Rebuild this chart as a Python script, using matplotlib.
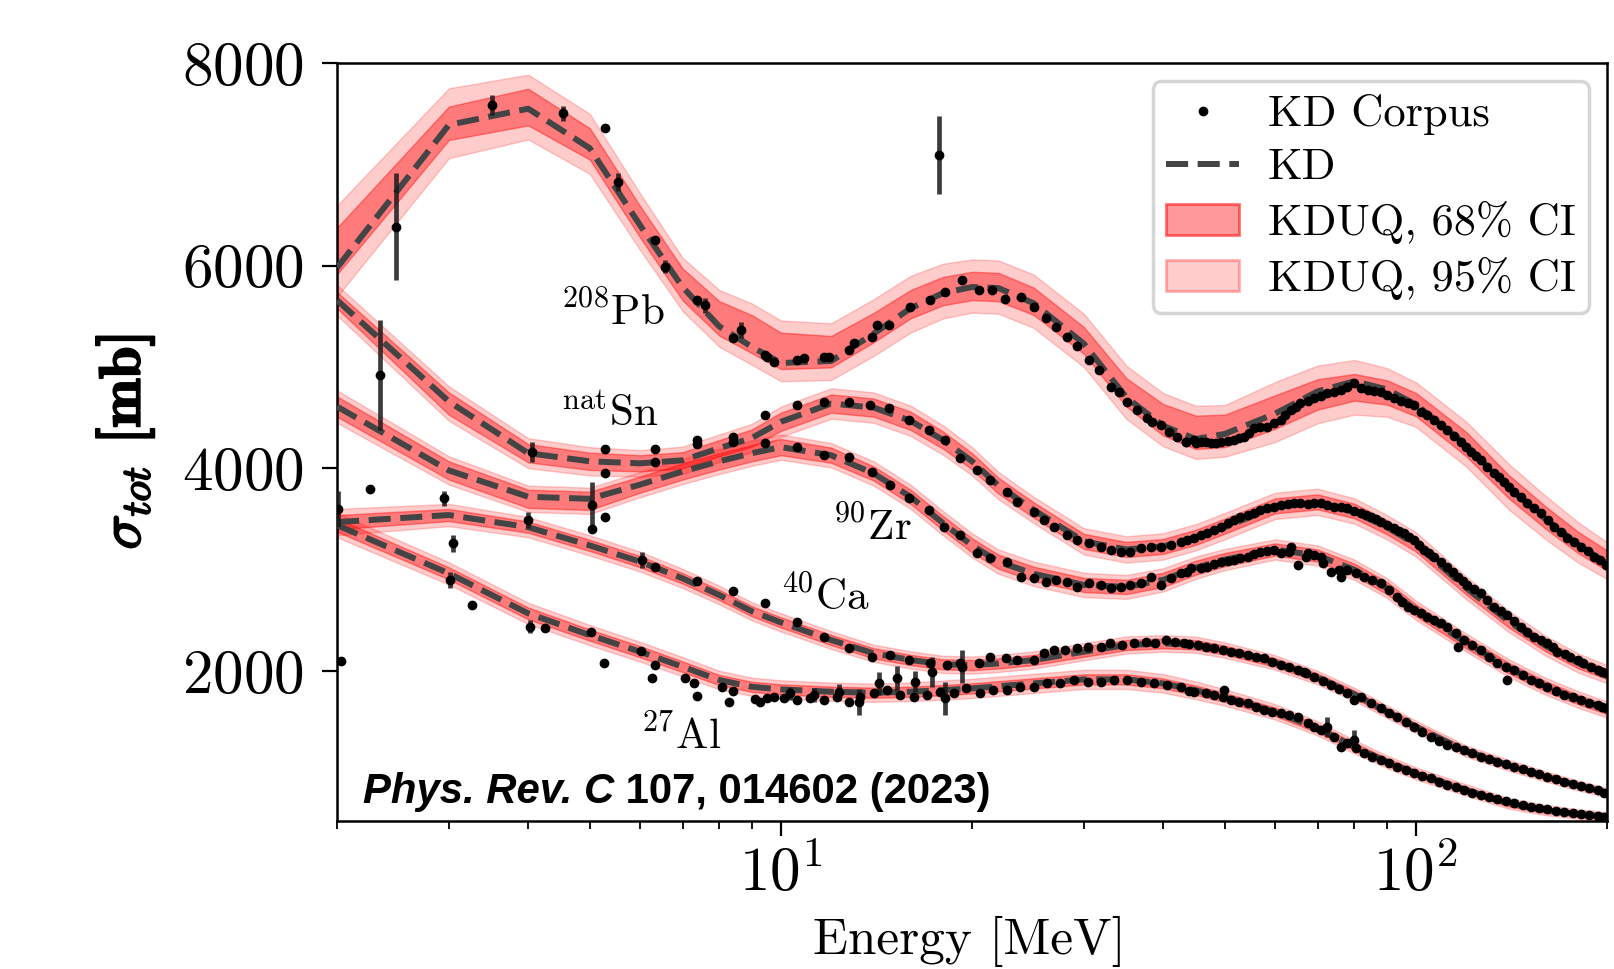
import numpy as np
import matplotlib
matplotlib.use("Agg")
import matplotlib.pyplot as plt
import matplotlib.patheffects as pe
from matplotlib.lines import Line2D
from matplotlib.patches import Patch

# energy grid of the model curves (MeV)
E_knots = [2, 3, 4, 5, 6, 7, 8, 9, 10, 12, 14, 16, 18, 20, 22, 25, 30, 35, 40, 45,
           50, 60, 70, 80, 90, 100, 120, 140, 160, 180, 200]

# KD curves, KDUQ centre shift and band half widths (mb)
pb_kd = [5980, 7390, 7550, 7160, 6400, 5790, 5400, 5200, 5040, 5060, 5330, 5580, 5730, 5790, 5780, 5630,
         5230, 4700, 4420, 4290, 4340, 4540, 4760, 4860, 4780, 4630, 4230, 3810, 3500, 3250, 3060]
pb_shift = [165, 16, 16, 43, 35, 26, 80, 125, 120, 92, 60, 40, 20, 10, 10, 20,
            33, 50, 60, 66, 30, 16, -30, -60, -30, 0, 10, 10, 15, 20, 30]
pb_w68 = [230, 165, 181, 155, 155, 158, 170, 188, 180, 155, 145, 140, 140, 140, 140, 135,
          132, 140, 155, 165, 160, 165, 150, 132, 120, 115, 120, 115, 110, 105, 100]
pb_w95 = [450, 345, 320, 296, 280, 263, 280, 303, 300, 280, 280, 280, 270, 263, 263, 263,
          263, 263, 263, 263, 255, 296, 285, 270, 240, 220, 222, 225, 214, 200, 181]

sn_kd = [5660, 4660, 4150, 4070, 4050, 4080, 4200, 4300, 4460, 4640, 4600, 4470, 4280, 4070, 3830, 3590,
         3280, 3200, 3230, 3320, 3420, 3620, 3660, 3570, 3420, 3250, 2820, 2490, 2250, 2080, 1970]
sn_shift = [0, -20, 0, 0, 0, 0, 0, 0, 0, 0, 0, 0, 0, 0, 0, 0,
            0, 0, 0, 0, 10, 10, 10, 10, 0, 0, 0, 0, 0, 0, 0]
sn_w68 = [80, 110, 90, 85, 80, 80, 80, 85, 90, 90, 90, 90, 85, 80, 78, 75,
          74, 74, 74, 74, 74, 74, 74, 72, 70, 70, 65, 60, 55, 52, 50]
sn_w95 = [150, 170, 148, 140, 130, 135, 135, 140, 150, 150, 150, 150, 145, 140, 135, 130,
          130, 130, 130, 130, 130, 130, 130, 125, 120, 120, 112, 105, 98, 94, 90]

zr_kd = [4610, 3980, 3720, 3700, 3840, 3970, 4070, 4150, 4210, 4130, 3950, 3720, 3460, 3240, 3080, 2960,
         2850, 2830, 2900, 3020, 3100, 3200, 3140, 3000, 2820, 2600, 2280, 2030, 1850, 1720, 1620]
zr_shift = [0, 0, -20, -20, 0, 0, 0, 0, 0, 0, 0, 0, 0, 0, 0, 0,
            0, 0, 0, 0, 0, 0, 0, 0, 0, 0, 0, 0, 0, 0, 0]
zr_w68 = [100, 90, 90, 90, 80, 80, 80, 80, 80, 75, 70, 70, 70, 70, 70, 70,
          70, 70, 70, 68, 65, 60, 60, 60, 60, 58, 55, 52, 50, 47, 45]
zr_w95 = [160, 140, 130, 130, 125, 125, 125, 125, 125, 120, 120, 120, 120, 120, 120, 120,
          120, 118, 115, 110, 105, 100, 100, 100, 98, 95, 90, 87, 84, 82, 80]

ca_kd = [3470, 3540, 3420, 3240, 3080, 2915, 2750, 2590, 2480, 2306, 2175, 2110, 2066, 2059, 2075, 2109,
         2191, 2257, 2273, 2260, 2207, 2085, 1935, 1770, 1600, 1450, 1210, 1070, 960, 870, 800]
ca_shift = [0] * len(E_knots)
ca_w68 = [70, 60, 55, 55, 55, 52, 50, 50, 50, 50, 50, 50, 50, 50, 50, 50,
          50, 50, 48, 46, 44, 42, 40, 38, 36, 34, 32, 30, 28, 27, 26]
ca_w95 = [130, 110, 100, 100, 98, 95, 92, 90, 90, 88, 85, 85, 85, 85, 85, 85,
          85, 85, 82, 80, 76, 72, 68, 65, 62, 60, 56, 53, 50, 48, 46]

al_kd = [3440, 2964, 2569, 2355, 2191, 2043, 1911, 1845, 1819, 1796, 1786, 1796, 1812, 1829, 1850, 1878,
         1918, 1918, 1878, 1810, 1740, 1598, 1435, 1253, 1105, 990, 826, 694, 628, 589, 562]
al_shift = [0] * len(E_knots)
al_w68 = [65, 60, 58, 55, 55, 52, 50, 50, 50, 50, 50, 50, 50, 50, 50, 50,
          50, 50, 48, 46, 44, 42, 40, 38, 36, 34, 32, 30, 28, 27, 26]
al_w95 = [120, 110, 105, 100, 98, 95, 92, 90, 90, 90, 90, 92, 95, 95, 95, 95,
          95, 95, 92, 88, 82, 76, 70, 66, 62, 60, 56, 53, 50, 48, 46]

# KD corpus: points with visible error bars
pb_bar_E = [2.48, 3.51, 4.53, 5.53, 6.57, 7.6, 8.65, 17.73]
pb_bar_sig = [6385, 7586, 7504, 6829, 5990, 5612, 5365, 7092]
pb_bar_err = [526, 99, 75, 90, 66, 74, 82, 387]
sn_bar_E = [2.34, 4.05]
sn_bar_sig = [4921, 4164]
sn_bar_err = [543, 99]
zr_bar_E = [5.05]
zr_bar_sig = [3640]
zr_bar_err = [230]
ca_bar_E = [2.01, 2.95, 3.05, 4.0, 6.04]
ca_bar_sig = [3600, 3704, 3260, 3490, 3095]
ca_bar_err = [180, 74, 82, 82, 82]
al_bar_E = [3.01, 4.02, 10.35, 11.26, 12.33, 13.26, 14.26, 15.24, 16.28, 17.3, 18.16, 19.29, 72.5, 79.9]
al_bar_sig = [2898, 2437, 1780, 1763, 1796, 1697, 1878, 1928, 1894, 1993, 1730, 2043, 1451, 1319]
al_bar_err = [82, 66, 66, 66, 80, 130, 115, 125, 105, 150, 165, 165, 99, 99]

# KD corpus: remaining points
pb_pts_E = [5.29, 6.34, 7.38, 8.42, 9.51, 9.45, 9.74, 10.6, 10.86, 11.68, 11.89, 12.79, 13.02, 13.92, 14.17,
            14.78, 15.99, 17.2, 18.16, 19.29, 20.49, 21.51, 22.57, 23.84, 25.01, 26.11, 27.07, 28.24, 29.28,
            30.54, 31.67, 33.04, 34.06, 35.11, 36.4, 37.75, 38.44, 39.62, 40.83, 42.09, 43.37, 44.7, 45.8,
            47.5, 49.25, 51.7, 53.6, 55.6, 58.3, 61.2, 63.5, 65.8, 69.1, 72.5, 76.1, 79.9, 83.9, 88, 92.4,
            97, 101.9, 106.8, 112, 117.6, 122, 126.5, 132.8, 137.7, 142.7, 149.7, 157.1, 164.8, 173, 181.8,
            190.9, 199.5]
pb_pts_sig = [7356, 6253, 5661, 5283, 5102, 5119, 5053, 5069, 5086, 5102, 5096, 5168, 5234, 5299, 5415,
              5415, 5595, 5661, 5743, 5859, 5760, 5760, 5668, 5694, 5595, 5481, 5398, 5299, 5207,
              5069, 4971, 4806, 4756, 4658, 4576, 4494, 4461, 4428, 4362, 4312, 4263, 4280, 4263,
              4247, 4263, 4280, 4312, 4395, 4411, 4477, 4576, 4642, 4691, 4740, 4773, 4839, 4773, 4757, 4691,
              4642, 4559, 4477, 4378, 4263, 4164, 4082, 3951, 3868, 3770, 3655, 3556, 3424, 3309, 3227,
              3128, 3046]
sn_pts_E = [5.29, 6.34, 7.38, 8.42, 9.45, 10.6, 11.68, 12.79, 13.83, 14.78, 15.9, 17.09, 18.16, 19.17, 20.37,
            21.38, 22.71, 23.55, 25.01, 25.94, 26.9, 28.24, 29.28, 30.54, 31.87, 33.04, 34.26, 35.52, 36.86,
            38.2, 39.62, 41.08, 42.6, 44.7, 46.9, 49.25, 51.7, 54.3, 56.9, 59.8, 61.2, 64.3, 67.5, 70.8,
            74.3, 78, 81.8, 84.9, 88, 92.4, 95.9, 99.3, 103, 106.8, 112, 116.3, 120.4, 126.5, 132.8, 139.3,
            146.2, 153.5, 161, 166.6, 174.9, 183.5, 193.2, 199.5]
sn_pts_sig = [4188, 4188, 4280, 4312, 4527, 4625, 4658, 4658, 4625, 4592, 4477, 4378, 4280, 4099, 3984,
              3885, 3770, 3671, 3572, 3490, 3424, 3342, 3293, 3266, 3227, 3194, 3178, 3178, 3211,
              3221, 3227, 3243, 3276, 3309, 3359, 3424, 3490, 3540, 3589, 3622, 3638, 3661, 3648, 3655,
              3622, 3606, 3556, 3523, 3474, 3408, 3359, 3293, 3194, 3128, 3029, 2931, 2849, 2767, 2635, 2553,
              2437, 2339, 2273, 2191, 2141, 2076, 2010, 1977]
zr_pts_E = [5.05, 5.29, 5.29, 6.34, 7.38, 8.42, 9.45, 10.6, 11.68, 12.79, 13.92, 14.87, 15.9, 17.09, 18.05,
            19.17, 20.37, 21.38, 22.71, 23.84, 25.01, 26.11, 27.07, 28.24, 29.28, 30.54, 31.87, 33.04, 34.26,
            35.52, 36.86, 38.2, 39.62, 41.08, 42.6, 44.2, 46.9, 49.25, 51.7, 54.3, 56.9, 59.8, 61.2, 63.5,
            65.1, 67.5, 69.1, 70.8, 73.4, 76.1, 78, 82.8, 88, 93.5, 97, 101.9, 106.8, 112, 116.3, 119,
            126.5, 134.4, 139.3, 142.7, 151.7, 161, 171.2, 181.8, 193.2, 199.5]
zr_pts_sig = [3400, 3950, 3517, 4066, 4240, 4263, 4247, 4214, 4132, 4115, 3967, 3836, 3704, 3589, 3424,
              3342, 3162, 3112, 3079, 2931, 2915, 2881, 2898, 2881, 2832, 2865, 2849, 2816, 2832,
              2849, 2865, 2931, 2849, 2915, 2964, 3013, 3029, 3079, 3095, 3128, 3178, 3194, 3162, 3227,
              3046, 3162, 3145, 3128, 2980, 2931, 2997, 2931, 2865, 2733, 2635, 2569, 2503, 2437, 2240, 2306,
              2207, 2076, 1911, 2010, 1911, 1845, 1763, 1714, 1665, 1632]
ca_pts_E = [2.25, 6.34, 7.38, 8.42, 9.45, 10.6, 11.68, 12.79, 13.92, 14.87, 15.9, 17.2, 18.27, 19.17, 20.5,
            21.38, 22.6, 23.55, 25, 25.94, 26.9, 28, 29.3, 30.4, 31.87, 33, 34.5, 36, 37.6, 38.8, 40.4,
            41.8, 43.2, 45.3, 48.1, 51.1, 54.3, 57.6, 61.2, 65.1, 66.6, 69.1, 73.4, 78, 79.9, 81.8, 88,
            93.5, 99.3, 105.5, 112, 119, 126.5, 134.4, 142.7, 151.7, 161, 171.2, 181.8, 193.2, 198]
ca_pts_sig = [3793, 3029, 2891, 2793, 2674, 2487, 2339, 2224, 2141, 2158, 2109, 2076, 2059, 2076, 2076,
              2141, 2125, 2109, 2109, 2175, 2207, 2207, 2224, 2240, 2240, 2273, 2257, 2273, 2289, 2273, 2306,
              2289, 2273, 2257, 2224, 2191, 2158, 2125, 2059, 2010, 1993, 1944, 1862, 1780, 1714, 1746, 1632,
              1549, 1451, 1352, 1270, 1220, 1154, 1105, 1056, 1006, 957, 907, 865, 826, 793]
al_pts_E = [2.03, 3.26, 4.25, 5.02, 5.27, 6.02, 6.34, 6.26, 7.07, 7.29, 7.38, 8.08, 8.27, 8.42, 9.11,
            9.28, 9.51, 9.74, 10.1, 10.6, 11.1, 11.68, 12.25, 12.79, 13.34, 14.0, 14.7, 15.4, 16.2, 17.0,
            17.8, 18.7, 19.6, 20.6, 21.6, 22.7, 23.8, 25.0, 26.2, 27.5, 28.9, 30.4, 31.9, 33.5, 35.1,
            36.9, 38.7, 40.6, 42.6, 44.7, 48.1, 49.8, 51.1, 54.3, 57.6, 61.2, 65.1, 67.5, 70.8, 74.3,
            76.1, 78, 82.8, 88, 93.5, 99.3, 105.5, 112, 119, 126.5, 134.4, 142.7, 151.7, 161, 171.2,
            181.8, 193.2, 198]
al_pts_sig = [2102, 2651, 2421, 2388, 2076, 2200, 2059, 1928, 1928, 1878, 1753, 1845, 1697, 1806, 1721,
              1697, 1730, 1746, 1730, 1714, 1730, 1714, 1746, 1697, 1746, 1780, 1812, 1763, 1746, 1763,
              1796, 1780, 1829, 1780, 1812, 1812, 1845, 1845, 1878, 1878, 1911, 1894, 1894, 1911, 1911,
              1894, 1878, 1862, 1845, 1796, 1763, 1812, 1714, 1681, 1615, 1583, 1549, 1484, 1418, 1352,
              1253, 1286, 1188, 1122, 1056, 990, 941, 875, 826, 776, 734, 694, 661, 635, 612,
              589, 569, 556]

# KD corpus: further points in the dense high-energy runs
pb_hi_E = [43.4, 45, 46.7, 48.4, 50.5, 52.6, 54.6, 56.9, 59.8, 62.3, 64.7, 67.5, 70.8, 74.3, 78.0, 81.8,
           85.9, 90.2, 94.6, 99.3, 104.2, 109.4, 114.8, 119.8, 124.2, 129.6, 135.2, 140.2, 146.3, 153.5,
           161.2, 169.1, 177.5, 186.3, 195.1]
pb_hi_sig = [4260, 4253, 4257, 4253, 4273, 4296, 4352, 4405, 4444, 4527, 4609, 4668, 4714, 4757, 4800, 4790,
             4767, 4724, 4668, 4625, 4527, 4428, 4319, 4214, 4122, 4016, 3912, 3819, 3714, 3606,
             3490, 3375, 3270, 3187, 3095]
sn_hi_E = [43.6, 45.8, 48.1, 50.5, 52.9, 55.6, 58.3, 62.8, 65.8, 69.1, 72.5, 76.1, 79.9, 83.4, 86.4, 90.2,
           94.1, 97.5, 101.1, 104.9, 109.4, 114.2, 118.4, 123.5, 129.6, 136, 142.7, 149.7, 157.1, 164.1,
           171.4, 179.7, 188.6, 196.1]
sn_hi_sig = [3293, 3342, 3392, 3457, 3517, 3562, 3606, 3648, 3661, 3655, 3641, 3615, 3582, 3540, 3497, 3441,
             3385, 3326, 3244, 3162, 3079, 2980, 2891, 2806, 2701, 2595, 2497, 2388, 2306, 2234,
             2168, 2109, 2043, 1993]
zr_hi_E = [43.6, 45.8, 48.1, 50.5, 52.9, 55.6, 58.3, 63.1, 67.1, 71.3, 75.7, 80.4, 85.4, 90.7, 95.2, 99.3,
           104.2, 109.4, 115.5, 122.7, 130.4, 138.5, 147.2, 156.3, 166.1, 176.5, 187.5, 196.1]
zr_hi_sig = [2980, 3013, 3056, 3089, 3112, 3155, 3187, 3177, 3128, 3063, 2997, 2964, 2898, 2799, 2684, 2602,
             2536, 2470, 2372, 2257, 2141, 2043, 1961, 1878, 1806, 1740, 1688, 1648]
ca_hi_E = [43.9, 46.7, 49.6, 52.6, 55.9, 59.4, 63.1, 67.1, 71.3, 75.7, 84.9, 90.7, 96.4, 102.4, 108.7,
           115.5, 122.7, 130.4, 138.5, 147.2, 156.3, 166.1, 176.5, 187.5]
ca_hi_sig = [2266, 2240, 2207, 2175, 2141, 2092, 2037, 1977, 1904, 1819, 1688, 1589, 1500, 1401, 1312,
             1247, 1188, 1129, 1082, 1030, 984, 931, 885, 845]
al_hi_E = [43.9, 46.7, 49.6, 52.6, 55.9, 59.4, 63.1, 69.1, 80.4, 85.4, 90.7, 96.4, 102.4, 108.7, 115.5,
           122.7, 130.4, 138.5, 147.2, 156.3, 166.1, 176.5, 187.5]
al_hi_sig = [1806, 1780, 1740, 1697, 1648, 1599, 1566, 1451, 1237, 1155, 1089, 1023, 964, 908, 852,
             799, 753, 714, 678, 648, 622, 602, 579]


def main():
    plt.rcParams['font.family'] = 'serif'
    plt.rcParams['font.serif'] = ['cmr10']
    plt.rcParams['mathtext.fontset'] = 'cm'
    plt.rcParams['axes.formatter.use_mathtext'] = True

    fig = plt.figure(figsize=(16.15, 9.69), dpi=100)
    ax = fig.add_axes([0.2087, 0.1527, 0.7864, 0.7822])

    kd_color = '#444444'
    isotopes = [
        (pb_kd, pb_shift, pb_w68, pb_w95, pb_bar_E, pb_bar_sig, pb_bar_err,
         pb_pts_E + pb_hi_E, pb_pts_sig + pb_hi_sig),
        (sn_kd, sn_shift, sn_w68, sn_w95, sn_bar_E, sn_bar_sig, sn_bar_err,
         sn_pts_E + sn_hi_E, sn_pts_sig + sn_hi_sig),
        (zr_kd, zr_shift, zr_w68, zr_w95, zr_bar_E, zr_bar_sig, zr_bar_err,
         zr_pts_E + zr_hi_E, zr_pts_sig + zr_hi_sig),
        (ca_kd, ca_shift, ca_w68, ca_w95, ca_bar_E, ca_bar_sig, ca_bar_err,
         ca_pts_E + ca_hi_E, ca_pts_sig + ca_hi_sig),
        (al_kd, al_shift, al_w68, al_w95, al_bar_E, al_bar_sig, al_bar_err,
         al_pts_E + al_hi_E, al_pts_sig + al_hi_sig),
    ]

    for kd, shift, w68, w95, bE, bS, bErr, pE, pS in isotopes:
        kd = np.array(kd, dtype=float)
        mid = kd + np.array(shift, dtype=float)
        w68 = np.array(w68, dtype=float)
        w95 = np.array(w95, dtype=float)
        ax.fill_between(E_knots, mid - w95, mid + w95, color='red', alpha=0.2, lw=1, zorder=1)
        ax.fill_between(E_knots, mid - w68, mid + w68, color='red', alpha=0.4, lw=1, zorder=2)
        ax.plot(E_knots, kd, ls='--', color=kd_color, lw=4.3, zorder=3)

        ax.errorbar(bE, bS, yerr=bErr, fmt='none', ecolor='#1a1a1a', elinewidth=3.4,
                    alpha=0.85, capsize=0, zorder=4)
        ax.plot(list(pE) + list(bE), list(pS) + list(bS), 'o', color='k', ms=6, zorder=5)

    # isotope labels
    lab_kw = dict(fontsize=31, ha='left', va='baseline', zorder=6)
    ax.text(4.51, 5410, r'$^{208}$Pb', **lab_kw)
    ax.text(4.51, 4414, r'$^{\rm nat}$Sn', **lab_kw)
    ax.text(12.06, 3286, r'$^{90}$Zr', **lab_kw)
    ax.text(10.0, 2604, r'$^{40}$Ca', **lab_kw)
    ax.text(6.02, 1232, r'$^{27}$Al', **lab_kw)

    # citation
    t1 = ax.text(0.0205, 0.024, 'Phys. Rev. C', transform=ax.transAxes, fontsize=30.2,
                 family='Liberation Sans', weight='bold', style='italic', va='baseline', zorder=6)
    ax.annotate(' 107, 014602 (2023)', xy=(1, 0), xycoords=t1, fontsize=30.2,
                family='Liberation Sans', weight='bold', ha='left', va='bottom', zorder=6)

    ax.set_xscale('log')
    ax.set_xlim(2, 200)
    ax.set_ylim(520, 8000)
    ax.set_yticks([2000, 4000, 6000, 8000])

    ax.tick_params(which='major', length=11, width=1.6, labelsize=44)
    ax.tick_params(which='minor', length=6, width=1.3)
    ax.tick_params(axis='y', pad=13)
    ax.tick_params(axis='x', pad=6)
    for sp in ax.spines.values():
        sp.set_linewidth(1.8)

    ax.set_xlabel('Energy [MeV]', fontsize=37)
    ax.xaxis.set_label_coords(0.498, -0.125)
    ax.set_ylabel(r'$\sigma_{tot}$ [mb]', fontsize=42, family='cmb10',
                  path_effects=[pe.withStroke(linewidth=1.4, foreground='k')])
    ax.yaxis.set_label_coords(-0.142, 0.5)

    handles = [
        Line2D([], [], marker='o', ls='none', color='k', ms=6),
        Line2D([], [], ls='--', color=kd_color, lw=4.3),
        Patch(facecolor=(1, 0, 0, 0.4), edgecolor=(1, 0, 0, 0.55), lw=2),
        Patch(facecolor=(1, 0, 0, 0.2), edgecolor=(1, 0, 0, 0.3), lw=2),
    ]
    labels = ['KD Corpus', 'KD', 'KDUQ, 68% CI', 'KDUQ, 95% CI']
    leg = ax.legend(handles, labels, loc='upper right', fontsize=32, borderaxespad=0.4,
                    handlelength=1.65, handletextpad=0.65, labelspacing=0.29, borderpad=0.3,
                    framealpha=0.8, edgecolor='0.8')
    leg.get_frame().set_linewidth(2.5)
    leg.set_zorder(10)

    fig.savefig('out.png', dpi=100)


if __name__ == "__main__":
    main()
